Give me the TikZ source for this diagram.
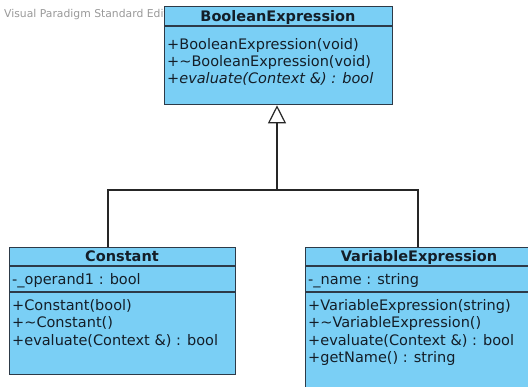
\documentclass[tikz,border=0pt]{standalone}
\usepackage{fontspec}
\setmainfont{DejaVu Sans}
\usetikzlibrary{arrows.meta}
\definecolor{classfill}{RGB}{122,207,245}
\definecolor{classline}{RGB}{45,58,72}
\definecolor{classtext}{RGB}{20,30,40}
\begin{document}
\begin{tikzpicture}[
        x=1pt, y=-1pt,
        classbox/.style={draw=classline, fill=classfill, line width=1.3pt, inner sep=0pt, anchor=north west},
        classname/.style={font=\fontsize{14.5}{16}\selectfont\bfseries, text=classtext, anchor=base, inner sep=0pt},
        member/.style={font=\fontsize{14.5}{16}\selectfont, text=classtext, anchor=base west, inner sep=0pt},
        sep/.style={classline, line width=1.3pt},
        link/.style={black!85, line width=1.2pt},
        inherit/.style={link, -{Triangle[open, length=18pt, width=18pt]}}
    ]
        \useasboundingbox (0,0) rectangle (528,386);
        \clip (0,0) rectangle (528,386);

        % Watermark (drawn first, behind the boxes)
        \node[anchor=base west, inner sep=0pt, font=\fontsize{10.8}{12}\selectfont, text=black!40] (wmark) at (4,17) {Visual Paradigm Standard Edition};

        % Class boxes
        \node[classbox, minimum width=228, minimum height=98] (bexpr) at (164,6) {};
        \node[classbox, minimum width=226, minimum height=127] (const) at (9,247) {};
        \node[classbox, minimum width=230, minimum height=160] (varexpr) at (305,247) {};

        % Compartment lines
        \draw[sep] ([yshift=-20pt]bexpr.north west) -- ([yshift=-20pt]bexpr.north east);
        \foreach \c in {const, varexpr} {
            \draw[sep] ([yshift=-19pt]\c.north west) -- ([yshift=-19pt]\c.north east);
            \draw[sep] ([yshift=-45pt]\c.north west) -- ([yshift=-45pt]\c.north east);
        }

        % BooleanExpression
        \node[classname] (bexprname) at (278,21) {BooleanExpression};
        \node[member] (bexprm1) at (167,49) {+BooleanExpression(void)};
        \node[member] (bexprm2) at (167,66) {+\textasciitilde BooleanExpression(void)};
        \node[member] (bexprm3) at (167,83) {\itshape +evaluate(Context \&) : bool};

        % Constant
        \node[classname] (constname) at (122,261) {Constant};
        \node[member] (consta1) at (12,284) {-\_operand1 : bool};
        \node[member] (constm1) at (12,310) {+Constant(bool)};
        \node[member] (constm2) at (12,327.5) {+\textasciitilde Constant()};
        \node[member] (constm3) at (12,345) {+evaluate(Context \&) : bool};

        % VariableExpression
        \node[classname] (varname) at (419,261) {VariableExpression};
        \node[member] (vara1) at (308,284) {-\_name : string};
        \node[member] (varm1) at (308,310) {+VariableExpression(string)};
        \node[member] (varm2) at (308,327.5) {+\textasciitilde VariableExpression()};
        \node[member] (varm3) at (308,345) {+evaluate(Context \&) : bool};
        \node[member] (varm4) at (308,362.5) {+getName() : string};

        % Generalisation
        \coordinate (split) at (277,190);
        \coordinate (cjoin) at (108,190);
        \coordinate (vjoin) at (418,190);
        \draw[link] (cjoin |- const.north) -- (cjoin) -- (vjoin) -- (vjoin |- varexpr.north);
        \draw[inherit] (split) -- (split |- bexpr.south);
    \end{tikzpicture}
\end{document}
